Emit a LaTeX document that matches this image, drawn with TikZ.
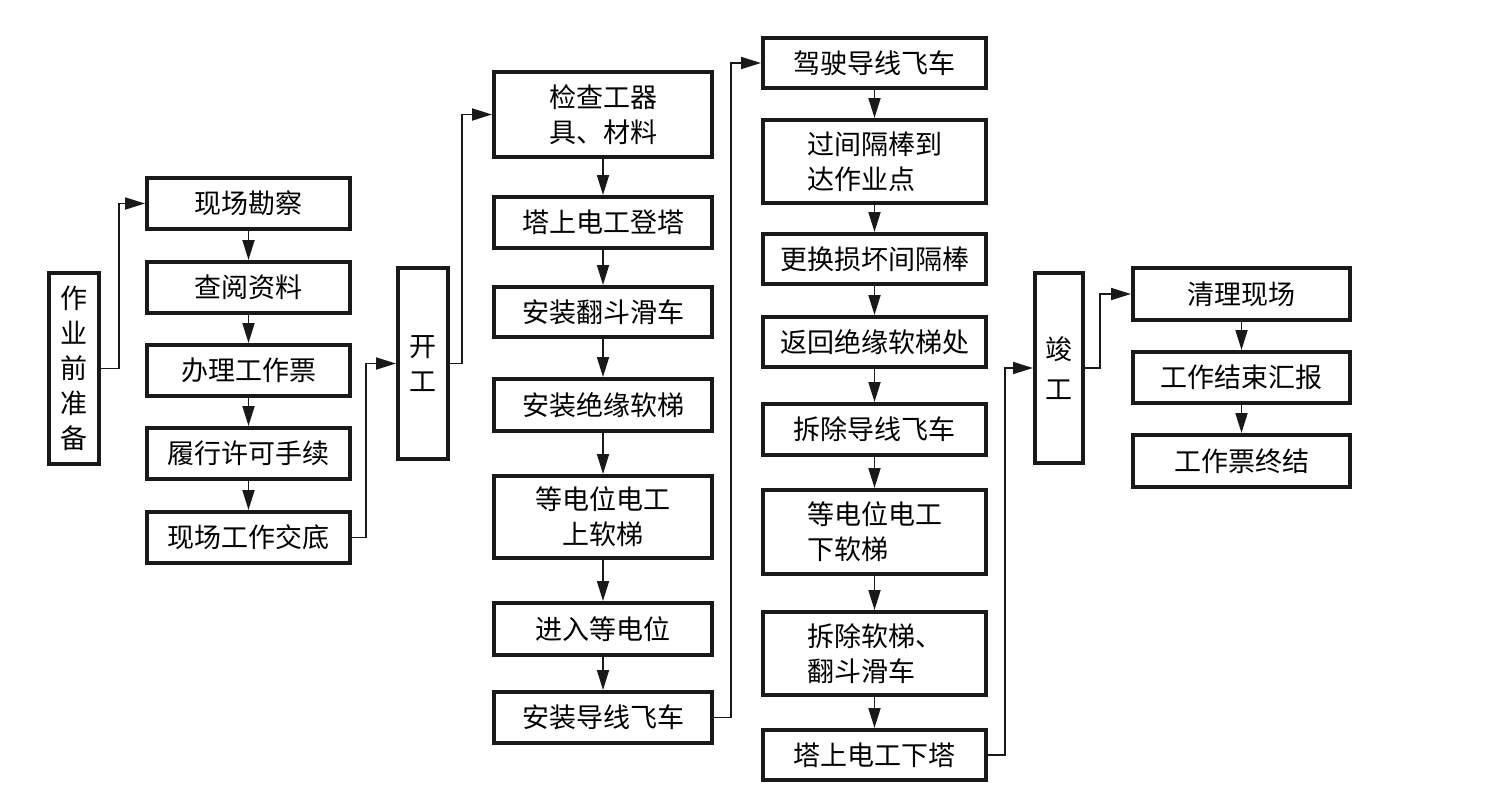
\documentclass[tikz,border=0pt]{standalone}
\usepackage{fontspec}
\newfontfamily\cjk{Noto Sans CJK SC}
\usetikzlibrary{arrows.meta}
\begin{document}
\begin{tikzpicture}[x=1pt,y=-1pt,
  box/.style={draw=black!90, line width=4pt, inner sep=0pt, align=center,
    font=\cjk\fontsize{27}{35}\selectfont},
  conn/.style={draw=black!90, line width=1.8pt, -{Triangle[length=20pt,width=12pt]}}]
\useasboundingbox (0,0) rectangle (1504,804);
% column 0
\node[box, minimum width=50, minimum height=191] (prep) at (74,368.5) {作\\业\\前\\准\\备};
% column 1
\node[box, minimum width=203, minimum height=51] (s1) at (248.5,203.5) {现场勘察};
\node[box, minimum width=203, minimum height=51] (s2) at (248.5,287.5) {查阅资料};
\node[box, minimum width=203, minimum height=51] (s3) at (248.5,370.5) {办理工作票};
\node[box, minimum width=203, minimum height=51] (s4) at (248.5,453.5) {履行许可手续};
\node[box, minimum width=203, minimum height=51] (s5) at (248.5,537.5) {现场工作交底};
% kaigong
\node[box, minimum width=50, minimum height=191] (kai) at (423,363.5) {开\\工};
% column 2
\node[box, minimum width=218, minimum height=85] (t1) at (603,114.5) {检查工器\\具、材料};
\node[box, minimum width=218, minimum height=51] (t2) at (603,222.5) {塔上电工登塔};
\node[box, minimum width=218, minimum height=50] (t3) at (603,312) {安装翻斗滑车};
\node[box, minimum width=218, minimum height=52] (t4) at (603,405) {安装绝缘软梯};
\node[box, minimum width=218, minimum height=82] (t5) at (603,517) {等电位电工\\上软梯};
\node[box, minimum width=218, minimum height=52] (t6) at (603,629) {进入等电位};
\node[box, minimum width=218, minimum height=51] (t7) at (603,717.5) {安装导线飞车};
% column 3
\node[box, minimum width=223, minimum height=50] (u1) at (874.5,63) {驾驶导线飞车};
\node[box, minimum width=223, minimum height=83, align=left] (u2) at (874.5,161.5) {过间隔棒到\\达作业点};
\node[box, minimum width=223, minimum height=50] (u3) at (874.5,259) {更换损坏间隔棒};
\node[box, minimum width=223, minimum height=50] (u4) at (874.5,342) {返回绝缘软梯处};
\node[box, minimum width=223, minimum height=51] (u5) at (874.5,429.5) {拆除导线飞车};
\node[box, minimum width=223, minimum height=84, align=left] (u6) at (874.5,532) {等电位电工\\下软梯};
\node[box, minimum width=223, minimum height=83, align=left] (u7) at (874.5,653.5) {拆除软梯、\\翻斗滑车};
\node[box, minimum width=223, minimum height=50] (u8) at (874.5,755) {塔上电工下塔};
% jungong
\node[box, minimum width=48, minimum height=190] (jun) at (1059,368) {竣\\[5pt]工};
% column 4
\node[box, minimum width=217, minimum height=52] (v1) at (1241.5,294) {清理现场};
\node[box, minimum width=217, minimum height=51] (v2) at (1241.5,377.5) {工作结束汇报};
\node[box, minimum width=217, minimum height=52] (v3) at (1241.5,461) {工作票终结};
% vertical arrows
\foreach \a/\b in {s1/s2,s2/s3,s3/s4,s4/s5,t1/t2,t2/t3,t3/t4,t4/t5,t5/t6,t6/t7,
  u1/u2,u2/u3,u3/u4,u4/u5,u5/u6,u6/u7,u7/u8,v1/v2,v2/v3}
  \draw[conn] (\a.south) -- (\b.north);
% elbow connectors
\draw[conn] (prep.east) -- ++(18,0) |- (s1.west);
\draw[conn] (s5.east) -- ++(14,0) |- (kai.west);
\draw[conn] (kai.east) -- ++(12,0) |- (t1.west);
\draw[conn] (t7.east) -- ++(17,0) |- (u1.west);
\draw[conn] (u8.east) -- ++(17,0) |- (jun.west);
\draw[conn] (jun.east) -- ++(15,0) |- (v1.west);
\end{tikzpicture}
\end{document}
